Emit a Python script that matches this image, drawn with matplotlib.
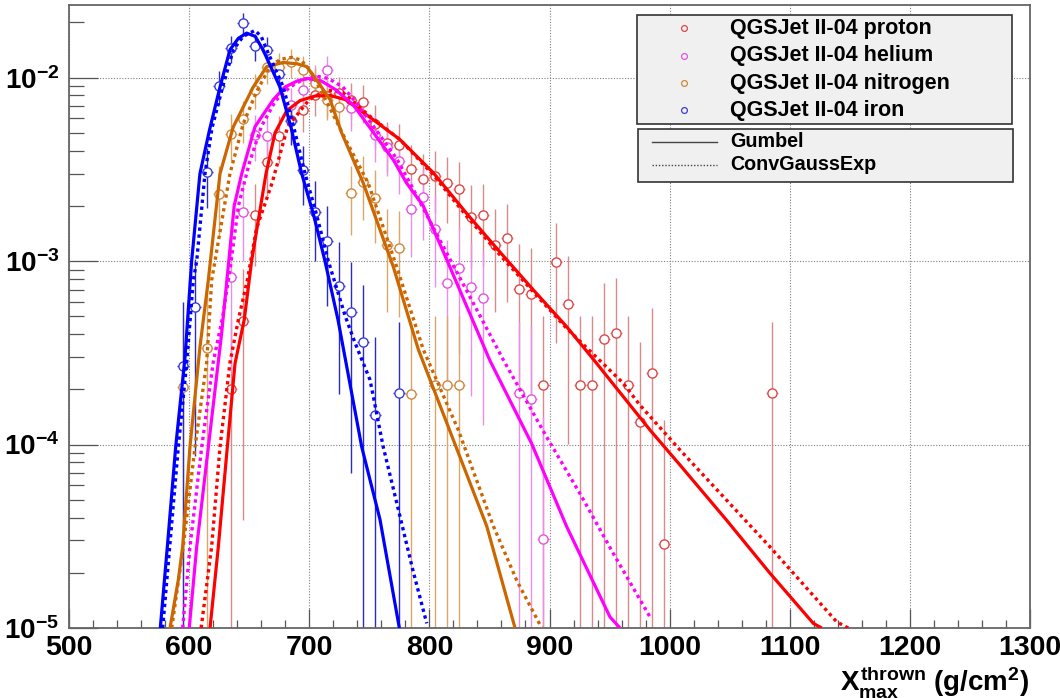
import numpy as np
import matplotlib
matplotlib.use('Agg')
import matplotlib.pyplot as plt
from matplotlib.ticker import MultipleLocator, LogLocator, NullFormatter, FuncFormatter
from matplotlib.lines import Line2D
from matplotlib.patches import Rectangle

plt.rcParams['font.family'] = 'Liberation Sans'
plt.rcParams['font.weight'] = 'bold'
plt.rcParams['mathtext.fontset'] = 'custom'
plt.rcParams['mathtext.rm'] = 'Liberation Sans:bold'
plt.rcParams['mathtext.it'] = 'Liberation Sans:bold'
plt.rcParams['mathtext.bf'] = 'Liberation Sans:bold'

##### histogram points (bin centres, normalised entries)
p_x = [635, 645, 655, 665, 675, 685, 695, 705, 715, 725, 735, 745, 755, 765, 775, 785, 795, 805,
       815, 825, 835, 845, 855, 865, 875, 885, 895, 905, 915, 925, 935, 945, 955, 965, 975, 985,
       995, 1085]
p_y = [2.0e-4, 4.74e-4, 1.79e-3, 3.45e-3, 4.8e-3, 5.9e-3, 6.67e-3, 8.0e-3, 7.9e-3, 8.3e-3, 7.6e-3,
       7.4e-3, 5.6e-3, 4.4e-3, 4.3e-3, 3.17e-3, 2.8e-3, 2.9e-3, 2.65e-3, 2.48e-3, 1.75e-3, 1.79e-3,
       1.23e-3, 1.33e-3, 7.08e-4, 6.6e-4, 2.1e-4, 9.87e-4, 5.84e-4, 2.1e-4, 2.1e-4, 3.75e-4, 4.04e-4,
       2.1e-4, 1.33e-4, 2.45e-4, 2.87e-5, 1.91e-4]

he_x = [635, 645, 655, 665, 685, 695, 705, 715, 735, 755, 765, 775, 785, 795, 805, 815, 825, 835,
        845, 875, 885, 895]
he_y = [8.2e-4, 1.86e-3, 4.9e-3, 4.8e-3, 7.1e-3, 8.6e-3, 9.7e-3, 1.1e-2, 6.8e-3, 4.88e-3, 4.21e-3,
        3.5e-3, 1.93e-3, 2.25e-3, 1.5e-3, 7.6e-4, 9.2e-4, 7.2e-4, 6.3e-4, 1.9e-4, 1.77e-4, 3.05e-5]

n_x = [595, 615, 625, 635, 645, 655, 665, 675, 685, 695, 705, 715, 725, 735, 745, 755, 765, 775,
       785, 805, 815, 825]
n_y = [2.05e-4, 3.35e-4, 2.33e-3, 4.94e-3, 5.96e-3, 8.6e-3, 1.14e-2, 1.15e-2, 1.22e-2, 1.1e-2,
       9.4e-3, 7.6e-3, 6.9e-3, 2.35e-3, 2.71e-3, 2.2e-3, 1.23e-3, 1.18e-3, 1.89e-4, 2.1e-4, 2.1e-4,
       2.1e-4]

fe_x = [595, 605, 615, 625, 635, 645, 655, 665, 675, 685, 695, 705, 715, 725, 735, 745, 755, 775]
fe_y = [2.69e-4, 5.6e-4, 3.05e-3, 9.0e-3, 1.45e-2, 1.98e-2, 1.48e-2, 1.42e-2, 1.05e-2, 5.8e-3,
        3.14e-3, 1.86e-3, 1.29e-3, 7.3e-4, 5.3e-4, 3.64e-4, 1.45e-4, 1.91e-4]

# weight of a single entry (sets the error bar size)
w_unit = 4.0e-4

##### fitted curves
p_gum_x = [617.4, 624.3, 631.8, 638.2, 645.9, 652, 664, 671.5, 681.2, 692.3, 705, 717.3, 730,
           753.3, 775.5, 803.3, 831, 858.8, 886.5, 914.3, 937, 983.7, 1008.6, 1047, 1083.5, 1119.6,
           1126.6]
p_gum_y = [1e-5, 2.77e-5, 9.7e-5, 2.77e-4, 4.8e-4, 1.0e-3, 3.0e-3, 5.0e-3, 6.6e-3, 7.5e-3, 7.95e-3,
           8.0e-3, 7.6e-3, 5.9e-3, 4.6e-3, 3.03e-3, 1.82e-3, 1.12e-3, 6.97e-4, 4.39e-4, 2.89e-4,
           1.2e-4, 7.74e-5, 3.9e-5, 1.99e-5, 1.06e-5, 1e-5]
p_cge_x = [610, 618.8, 625.7, 634, 641, 648.5, 656, 669, 682, 700, 714.5, 728, 750, 775.5, 803.3,
           831, 858.8, 886.5, 914.3, 961.4, 975.3, 1008.6, 1083.5, 1139.1, 1148.7]
p_cge_y = [1e-5, 2.8e-5, 9.7e-5, 2.8e-4, 4.8e-4, 7.9e-4, 1.5e-3, 2.66e-3, 5.4e-3, 7.6e-3, 8.58e-3,
           8.3e-3, 6.2e-3, 4.6e-3, 2.95e-3, 1.76e-3, 1.08e-3, 6.8e-4, 4.3e-4, 2.16e-4, 1.64e-4,
           9.35e-5, 2.77e-5, 1.08e-5, 1e-5]

he_gum_x = [600.1, 606.3, 616.0, 627, 633, 637.5, 643.8, 654.8, 670.1, 679.8, 690, 699, 710, 722,
            736.7, 770, 781.1, 794.9, 815, 850.4, 885.2, 914.3, 950.3, 958.7]
he_gum_y = [1e-5, 2.77e-5, 9.7e-5, 4.0e-4, 1.0e-3, 2.0e-3, 3.0e-3, 5.4e-3, 7.6e-3, 8.9e-3, 9.6e-3,
            9.9e-3, 9.6e-3, 8.6e-3, 7.1e-3, 3.56e-3, 2.66e-3, 2.0e-3, 1.0e-3, 2.87e-4, 1.01e-4,
            3.57e-5, 1.15e-5, 1e-5]
he_cge_x = [594.6, 600.7, 610.5, 620, 628, 635, 641, 650, 660, 672, 684, 695, 706, 716, 728, 740,
            773, 783.9, 818, 861.5, 897.6, 925.4, 953.1, 983.6]
he_cge_y = [1e-5, 2.77e-5, 9.7e-5, 2.8e-4, 5.0e-4, 1.0e-3, 2.0e-3, 3.4e-3, 5.4e-3, 7.5e-3, 8.9e-3,
            9.8e-3, 1.02e-2, 9.9e-3, 8.9e-3, 7.2e-3, 3.6e-3, 2.66e-3, 1.0e-3, 2.9e-4, 1.1e-4,
            5.4e-5, 2.55e-5, 1.15e-5]

n_gum_x = [584.1, 591.0, 594.6, 600.7, 609.0, 616.0, 625.7, 636.8, 653.4, 664.6, 678.4, 690, 697.9,
           706.2, 717.3, 727.0, 745.0, 770.0, 790.8, 819, 847.7, 871.3]
n_gum_y = [1e-5, 1.83e-5, 2.77e-5, 9.7e-5, 3.4e-4, 7.9e-4, 3.0e-3, 5.4e-3, 8.9e-3, 1.15e-2, 1.21e-2,
           1.19e-2, 1.15e-2, 9.7e-3, 7.6e-3, 5.0e-3, 2.66e-3, 9.3e-4, 3.3e-4, 1.1e-4, 3.6e-5, 1e-5]
n_cge_x = [585.5, 595.1, 604.9, 614.6, 618.8, 621.5, 634.0, 645, 656.2, 667.3, 676, 685.4, 693,
           700.6, 714.5, 731, 749.1, 772.8, 794.9, 824.1, 853.2, 873, 893.5]
n_cge_y = [1e-5, 2.77e-5, 9.7e-5, 2.8e-4, 7.9e-4, 1.0e-3, 3.0e-3, 5.6e-3, 8.4e-3, 1.15e-2, 1.26e-2,
           1.29e-2, 1.25e-2, 1.1e-2, 7.4e-3, 4.5e-3, 2.66e-3, 9.3e-4, 3.3e-4, 1.2e-4, 3.6e-5,
           1.8e-5, 1e-5]

fe_gum_x = [576, 582.3, 588.8, 596.6, 602.1, 609.0, 617, 625.7, 634.0, 641, 647.9, 655, 661.5,
            675.6, 685, 693.7, 703.5, 713.1, 723.9, 743.7, 758.9, 775.0]
fe_gum_y = [1e-5, 3e-5, 9.7e-5, 3e-4, 1.0e-3, 3.0e-3, 5.2e-3, 8.9e-3, 1.42e-2, 1.64e-2, 1.75e-2,
            1.68e-2, 1.42e-2, 8.9e-3, 5.3e-3, 3.0e-3, 1.8e-3, 1.0e-3, 4.8e-4, 9.7e-5, 3.9e-5, 1e-5]
fe_cge_x = [578, 591, 598, 603.5, 606.3, 613.2, 619, 627.9, 636.8, 645, 654.8, 660, 664.6, 678.4,
            687, 696.5, 706, 715.9, 730, 738, 750.6, 761.6, 775.0, 786, 797.8]
fe_cge_y = [1e-5, 9.7e-5, 2.8e-4, 7.9e-4, 1.0e-3, 3.0e-3, 5.3e-3, 8.9e-3, 1.42e-2, 1.68e-2, 1.81e-2,
            1.68e-2, 1.42e-2, 8.9e-3, 5.4e-3, 3.0e-3, 1.8e-3, 1.0e-3, 5.0e-4, 3.6e-4, 2.25e-4,
            9.7e-5, 4.2e-5, 2.1e-5, 1.06e-5]

labels = ['QGSJet II-04 proton', 'QGSJet II-04 helium', 'QGSJet II-04 nitrogen', 'QGSJet II-04 iron']

series = [
    # points, curves, marker col, error col, line col
    (p_x, p_y, p_gum_x, p_gum_y, p_cge_x, p_cge_y, '#dd4848', '#d98a8a', '#ff0000'),
    (he_x, he_y, he_gum_x, he_gum_y, he_cge_x, he_cge_y, '#e055e0', '#e890e8', '#ff00ff'),
    (n_x, n_y, n_gum_x, n_gum_y, n_cge_x, n_cge_y, '#cc8840', '#d8a868', '#cc6600'),
    (fe_x, fe_y, fe_gum_x, fe_gum_y, fe_cge_x, fe_cge_y, '#3c3cdc', '#2c2cc0', '#0000ff'),
]

fig = plt.figure(figsize=(10.6, 6.98), dpi=100)
ax = fig.add_axes([69/1060, 70/698, 961/1060, 623.3/698])

for px_, py_, gx, gy, cx, cy, mcol, ecol, lcol in series:
    y = np.array(py_)
    err = np.sqrt(y * w_unit)
    lo = np.minimum(err, y - 1e-9)
    ax.errorbar(px_, y, xerr=5, yerr=[lo, err], fmt='o', ms=6.6, mfc='white', mec=mcol, mew=1.0,
                ecolor=ecol, elinewidth=1.0, capsize=0, zorder=2)

for px_, py_, gx, gy, cx, cy, mcol, ecol, lcol in series:
    ax.plot(gx, gy, color=lcol, lw=2.3, zorder=3, solid_capstyle='butt')
    ax.plot(cx, cy, color=lcol, lw=2.4, ls=(0, (1, 1.1)), zorder=3)

ax.set_yscale('log')
ax.set_xlim(500, 1300)
ax.set_ylim(1e-5, 0.025)

ax.xaxis.set_major_locator(MultipleLocator(100))
ax.xaxis.set_minor_locator(MultipleLocator(20))
ax.yaxis.set_major_locator(LogLocator(base=10, numticks=10))
ax.yaxis.set_minor_locator(LogLocator(base=10, subs=np.arange(2, 10), numticks=20))
ax.yaxis.set_minor_formatter(NullFormatter())
ax.yaxis.set_major_formatter(FuncFormatter(lambda v, pos: r'$10^{%d}$' % round(np.log10(v))))
ax.xaxis.set_major_formatter(FuncFormatter(lambda v, pos: '%d' % v))

ax.tick_params(axis='both', which='both', direction='in', colors='#555555', top=False, right=False)
ax.tick_params(axis='x', which='major', length=13.7, width=0.9, labelsize=20.5, pad=5,
               labelcolor='black')
ax.tick_params(axis='x', which='minor', length=6, width=0.9)
ax.tick_params(axis='y', which='major', length=21, width=0.9, labelsize=20, pad=7,
               labelcolor='black')
ax.tick_params(axis='y', which='minor', length=10.8, width=0.9)

for s in ax.spines.values():
    s.set_color('#666666')
    s.set_linewidth(1.3)

ax.grid(True, which='major', color='#808080', lw=0.8, ls=(0, (1, 1.5)))
ax.set_axisbelow(True)

fig.text(1029/1060, 1 - 690/698, r'$X_{max}^{thrown}$ (g/cm$^{2}$)', ha='right', va='baseline',
         fontsize=20, fontweight='bold')

# legend boxes
leg1 = Rectangle((637/1060, 1 - 124/698), 375/1060, 109/698, transform=fig.transFigure,
                 facecolor='#f0f0f0', edgecolor='#333333', lw=1.2, zorder=5)
leg2 = Rectangle((638/1060, 1 - 181.7/698), 375/1060, 52.4/698, transform=fig.transFigure,
                 facecolor='#f0f0f0', edgecolor='#333333', lw=1.2, zorder=5)
fig.add_artist(leg1)
fig.add_artist(leg2)

row_y = [28.3, 55.7, 83.3, 110.3]
for i, lab in enumerate(labels):
    fy = 1 - row_y[i]/698
    fig.add_artist(Line2D([684/1060], [fy], marker='o', ms=4.2, mfc='none', mec=series[i][6],
                          mew=0.9, ls='none', transform=fig.transFigure, zorder=6))
    fig.text(730/1060, fy, lab, ha='left', va='center', fontsize=15.5, fontweight='bold', zorder=6)

for fy_px, lab, ls in [(141.7, 'Gumbel', '-'), (165, 'ConvGaussExp', (0, (1, 1.3)))]:
    fy = 1 - fy_px/698
    fig.add_artist(Line2D([652/1060, 717/1060], [fy, fy], color='#444444', lw=1.0, ls=ls,
                          transform=fig.transFigure, zorder=6))
    fig.text(730/1060, fy, lab, ha='left', va='center', fontsize=14.2, fontweight='bold', zorder=6)

fig.savefig('out.png', dpi=100)
